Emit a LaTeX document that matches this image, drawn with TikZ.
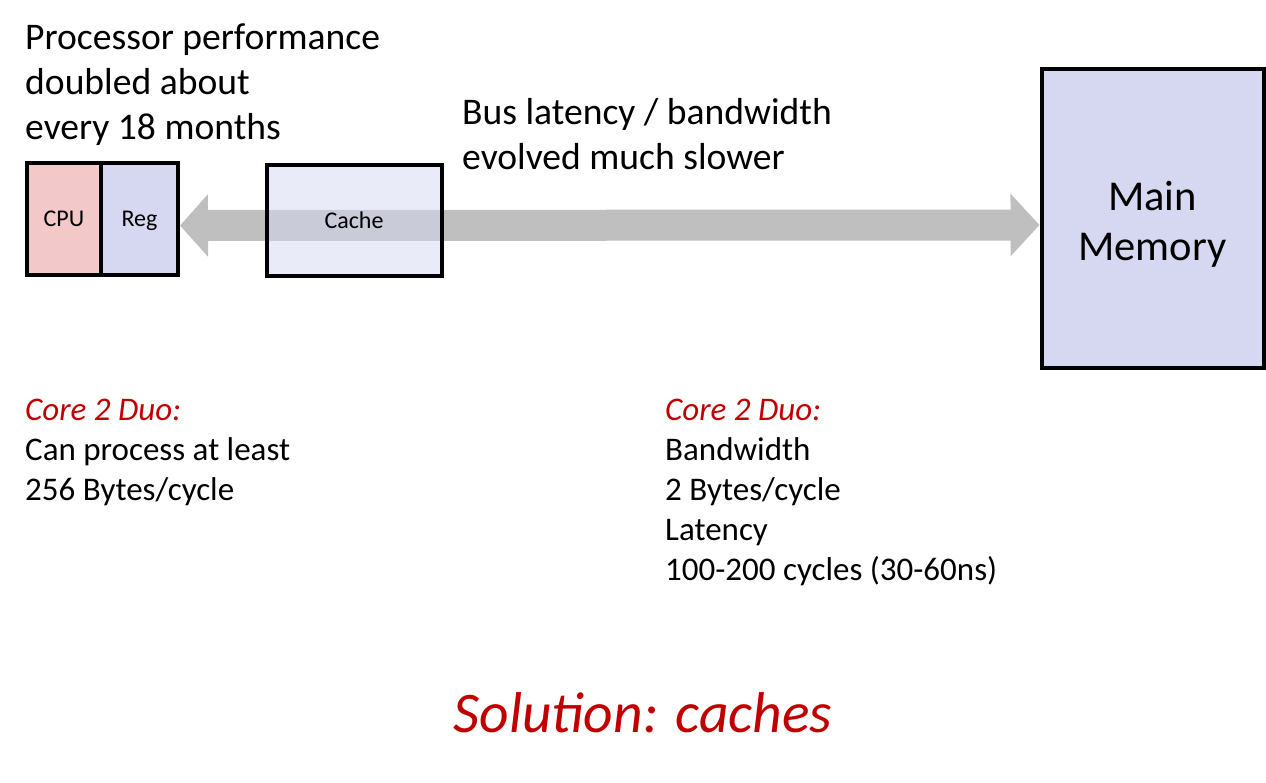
\documentclass[tikz,border=0pt]{standalone}
\usepackage{fontspec}
\setmainfont{Carlito}
\usetikzlibrary{arrows.meta, positioning}
\definecolor{cpured}{RGB}{242,200,200}
\definecolor{reglav}{RGB}{214,216,242}
\definecolor{busgray}{RGB}{191,191,191}
\definecolor{duored}{RGB}{192,0,0}
\tikzset{
  unit/.style = {draw, line width=4pt, inner sep=0pt, text height=18pt, text depth=3pt,
                 font=\fontsize{24}{29}\selectfont},
  bigtext/.style = {anchor=north west, align=left, inner sep=0pt, font=\fontsize{37.6}{45}\selectfont},
  note/.style = {anchor=north west, align=left, inner sep=0pt, font=\fontsize{33}{40}\selectfont},
}

\begin{document}
\begin{tikzpicture}[x=1pt, y=-1pt]
  \useasboundingbox (0,0) rectangle (1266,783);

  % CPU with its registers, and main memory
  \node[unit, fill=cpured, minimum width=74pt, minimum height=112pt] (cpu) at (64,219.5) {CPU};
  \node[unit, fill=reglav, minimum width=77pt, minimum height=112pt] (reg) at (139.5,219.5) {Reg};
  \node[unit, fill=reglav, minimum width=222pt, minimum height=299pt] (mem) at (1152.5,219) {};
  \node[align=center, font=\fontsize{42.5}{50}\selectfont] (memtext) at ([yshift=-5pt]mem.center) {Main\\Memory};

  % the bus
  \draw[busgray, line width=31pt,
        {Triangle[length=28pt, width=61pt]}-{Triangle[length=29pt, width=61pt]}]
    ([yshift=-6pt]reg.east) -- ([yshift=-6pt]mem.west);

  % cache sits on the bus
  \node[unit, fill=reglav, fill opacity=0.5, text opacity=1,
        minimum width=175pt, minimum height=111pt] (cache) at (354,221) {Cache};

  \node[bigtext] (growth) at (25,24) {Processor performance\\doubled about\\every 18 months};
  \node[bigtext] (buslag) at (462,98) {Bus latency / bandwidth\\evolved much slower};

  \node[note] (cpunote) at (25,399) {\textcolor{duored}{\itshape Core 2 Duo:}\\Can process at least\\256 Bytes/cycle};
  \node[note] (memnote) at (665,399) {\textcolor{duored}{\itshape Core 2 Duo:}\\Bandwidth\\2 Bytes/cycle\\Latency\\100-200 cycles (30-60ns)};

  \node[anchor=north, inner sep=0pt, text=duored, font=\fontsize{57.5}{68}\selectfont\itshape] (fix) at (643,692) {Solution: caches};
\end{tikzpicture}
\end{document}
